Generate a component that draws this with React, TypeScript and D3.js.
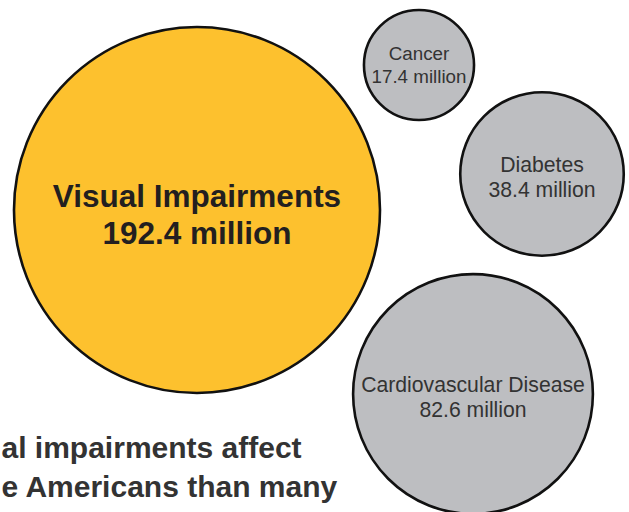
import React from 'react';
import * as d3 from 'd3';

// prevalence, millions of Americans
const conditions = ['Visual Impairments', 'Cancer', 'Diabetes', 'Cardiovascular Disease'];
const millions = [192.4, 17.4, 38.4, 82.6];
const highlight = ['Visual Impairments'];

// bubble centres (layout only)
const centresX = [197, 419, 542, 473];
const centresY = [210, 65, 174, 394];

// caption as visible in the crop
const captionLines = ['al impairments affect', 'e Americans than many'];

const width = 629;
const height = 512;

export default function App() {
  const r = d3.scaleSqrt().domain([0, d3.max(millions) as number]).range([0, 183]);
  const fill = d3.scaleOrdinal<string, string>()
    .domain(['highlight', 'other'])
    .range(['#fdc12e', '#bdbec1']);

  const nodes = conditions.map((name, i) => ({
    name,
    value: millions[i],
    x: centresX[i],
    y: centresY[i],
    big: highlight.includes(name),
  }));

  return (
    <div style={{ position: 'fixed', left: 0, top: 0 }}>
      <svg width={width} height={height} style={{ display: 'block', background: '#fff' }}
        fontFamily="'Liberation Sans', Arial, sans-serif">
        {nodes.map(d => (
          <g key={d.name} transform={`translate(${d.x},${d.y})`}>
            <circle r={r(d.value)} fill={fill(d.big ? 'highlight' : 'other')}
              stroke="#111" strokeWidth={2.6} />
            {d.big ? (
              <text textAnchor="middle" fill="#231f20" fontWeight="bold" fontSize={31.5}>
                <tspan x={0} y={-3}>{d.name}</tspan>
                <tspan x={0} y={34}>{`${d.value} million`}</tspan>
              </text>
            ) : (
              <text textAnchor="middle" fill="#333" fontSize={d.value < 20 ? 18.8 : 21.2}>
                <tspan x={0} y={d.value < 20 ? -5 : -2}>{d.name}</tspan>
                <tspan x={0} y={d.value < 20 ? 18 : 23}>{`${d.value} million`}</tspan>
              </text>
            )}
          </g>
        ))}
        <text fill="#333" fontWeight="bold" fontSize={30}>
          {captionLines.map((line, i) => (
            <tspan key={line} x={1.5} y={458 + i * 39}>{line}</tspan>
          ))}
        </text>
      </svg>
    </div>
  );
}
